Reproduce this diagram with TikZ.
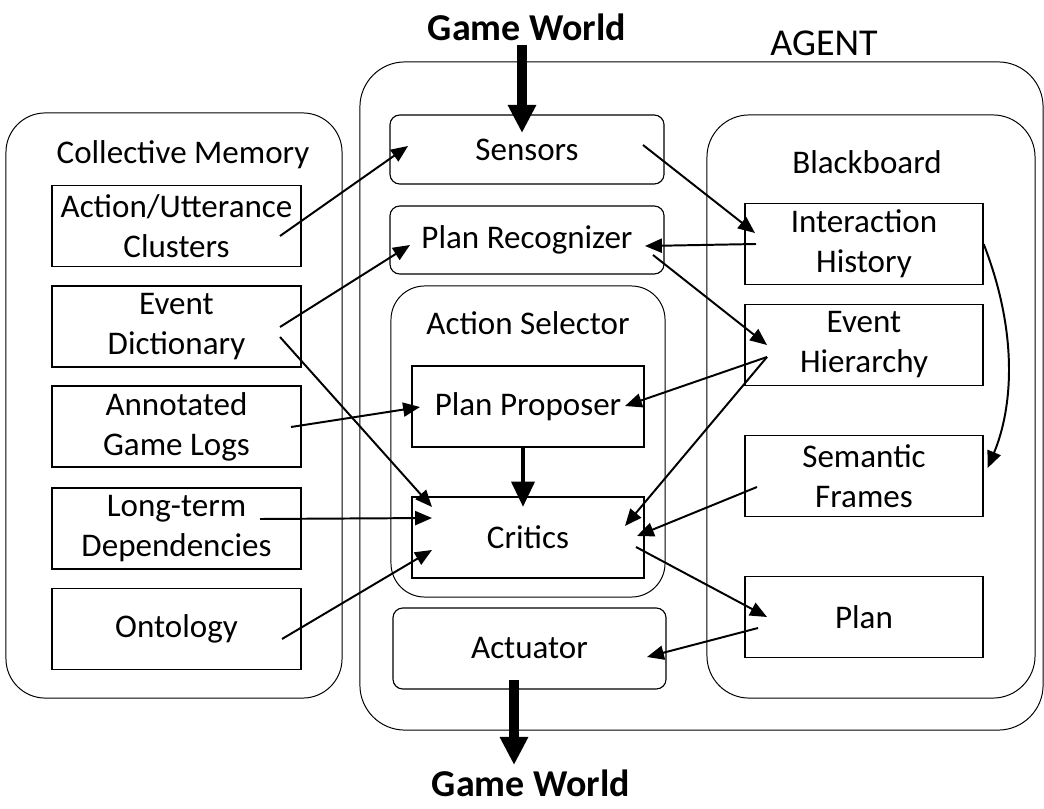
\documentclass[tikz,border=0pt]{standalone}
\usepackage{fontspec}
\setmainfont{Carlito}
\usetikzlibrary{arrows.meta,calc}
\tikzset{
  group/.style={draw, line width=0.7pt, rounded corners=#1},
  group/.default=28pt,
  part/.style={draw, line width=0.8pt, rounded corners=7pt, align=center},
  store/.style={draw, line width=0.9pt, align=center, minimum height=2.025cm},
  heading/.style={inner sep=0pt},
  flow/.style={-{Triangle[length=12pt,width=10pt]}, line width=1.4pt},
  bigflow/.style={-{Triangle[length=20pt,width=19pt]}, line width=6.5pt},
}
\newcommand{\worldfont}{\fontsize{27}{31}\selectfont\bfseries}

\begin{document}
\begin{tikzpicture}[x=0.025cm, y=-0.025cm, every node/.style={font=\fontsize{23.5}{28.5}\selectfont}]
  \useasboundingbox (0,0) rectangle (1044,808);
  % outer frames
  \node[group, minimum width=8.4cm, minimum height=14.625cm] (cmem) at (174,405.5) {};
  \node[group=32pt, minimum width=17.075cm, minimum height=16.7cm] (agent) at (701.5,396) {};
  \node[group=30pt, minimum width=8.2cm, minimum height=14.575cm] (bboard) at (871,406.5) {};
  \node[group=24pt, minimum width=6.85cm, minimum height=7.775cm] (asel) at (528,441.5) {};
  \node[heading] (cmemt) at (183,155) {Collective Memory};
  \node[heading, font=\fontsize{27}{30}\selectfont] (agentt) at (824,43) {AGENT};
  \node[heading] (bboardt) at (867,162) {Blackboard};
  \node[heading] (aselt) at (528,323) {Action Selector};
  \node[heading, font=\worldfont] (gwin) at (527,27) {Game World};
  \node[heading, font=\worldfont] (gwout) at (531,783) {Game World};
  % collective memory
  \node[store, minimum width=6.225cm, inner sep=0pt] (acu) at (176.5,226) {Action/Utterance\\Clusters};
  \node[store, minimum width=6.225cm] (evd) at (176.5,326.5) {Event\\Dictionary};
  \node[store, minimum width=6.225cm] (agl) at (176.5,426.5) {Annotated\\Game Logs};
  \node[store, minimum width=6.225cm] (ltd) at (176.5,528.5) {Long-term\\Dependencies};
  \node[store, minimum width=6.225cm] (ont) at (176.5,629) {Ontology};
  % agent parts
  \node[part, minimum width=6.85cm, minimum height=1.725cm] (sens) at (527,149.5) {Sensors};
  \node[part, minimum width=6.85cm, minimum height=1.7cm] (precog) at (527,240) {Plan Recognizer};
  \node[store, minimum width=5.8cm] (pprop) at (528,406.5) {Plan Proposer};
  \node[store, minimum width=5.8cm] (crit) at (528,537.5) {Critics};
  \node[part, minimum width=6.825cm, minimum height=2.025cm] (act) at (529.5,648.5) {Actuator};
  % blackboard
  \node[store, minimum width=5.95cm] (ihist) at (864,244) {Interaction\\History};
  \node[store, minimum width=5.95cm] (ehier) at (864,345) {Event\\Hierarchy};
  \node[store, minimum width=5.95cm] (sfr) at (864,476) {Semantic\\Frames};
  \node[store, minimum width=5.95cm] (plan) at (864,617) {Plan};
  % arrows
  \draw[bigflow] ([shift={(-5,18)}]gwin.center) -- ([shift={(-5,-16.5)}]sens.center);
  \draw[bigflow] ([shift={(-15.5,31.5)}]act.center) -- ([shift={(-17,-18)}]gwout.center);
  \draw[-{Triangle[length=18pt,width=16pt]}, line width=3.5pt] ([shift={(-5,0)}]pprop.south) -- ([shift={(-5,-30.5)}]crit.center);
  \draw[flow] ([shift={(103.5,10)}]acu.center) -- ([shift={(-119,-3.5)}]sens.center);
  \draw[flow] ([shift={(103.5,0.5)}]evd.center) -- ([shift={(-117,5)}]precog.center);
  \draw[flow] ([shift={(103.5,10.5)}]evd.center) -- ([shift={(-96,-30.5)}]crit.center);
  \draw[flow] ([shift={(114.5,0.5)}]agl.center) -- ([shift={(-108,0.5)}]pprop.center);
  \draw[flow] ([shift={(83.5,-9.5)}]ltd.center) -- ([shift={(-96,-19.5)}]crit.center);
  \draw[flow] ([shift={(105.5,10)}]ont.center) -- ([shift={(-96,12.5)}]crit.center);
  \draw[flow] ([shift={(116,-4.5)}]sens.center) -- ([shift={(-109,-11)}]ihist.center);
  \draw[flow] ([shift={(-108,0)}]ihist.center) -- ([shift={(118,6)}]precog.center);
  \draw[flow] ([shift={(126,15)}]precog.center) -- ([shift={(-97,0)}]ehier.center);
  \draw[flow] ([shift={(-97,12)}]ehier.center) -- ([shift={(97,-0.5)}]pprop.center);
  \draw[flow] ([shift={(-97,12)}]ehier.center) -- ([shift={(97,-11.5)}]crit.center);
  \draw[flow] ([shift={(-107,11)}]sfr.center) -- ([shift={(109,-1.5)}]crit.center);
  \draw[flow] ([shift={(108,9.5)}]crit.center) -- ([shift={(-97,0)}]plan.center);
  \draw[flow] ([shift={(-106,11)}]plan.center) -- ([shift={(117.5,8.5)}]act.center);
  \draw[flow] (ihist.east) .. controls +(35,90) and +(25,-60) .. ([shift={(4,-8)}]sfr.east);
\end{tikzpicture}
\end{document}
